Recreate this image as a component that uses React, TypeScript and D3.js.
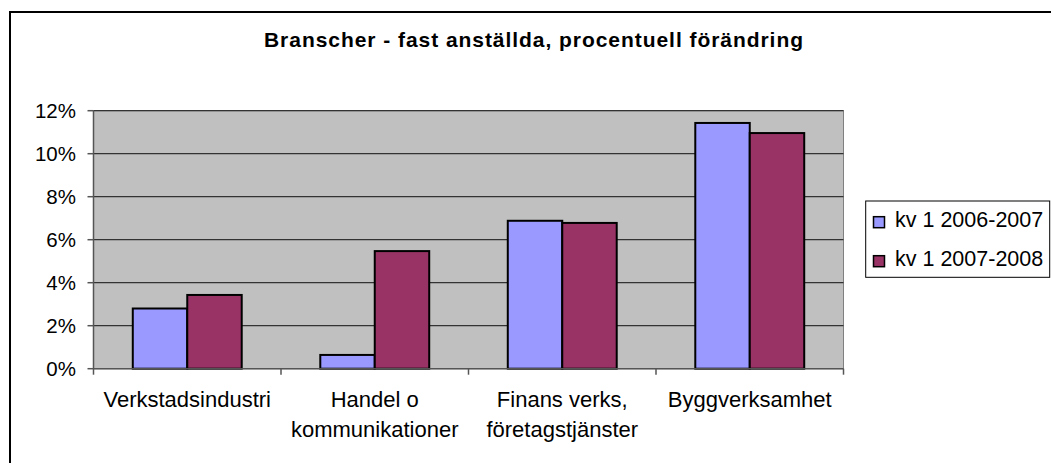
import React from 'react'
import * as d3 from 'd3'

const categories = ['Verkstadsindustri', 'Handel o\nkommunikationer', 'Finans verks,\nföretagstjänster', 'Byggverksamhet']
const seriesNames = ['kv 1 2006-2007', 'kv 1 2007-2008']
const values2006 = [0.028, 0.0064, 0.0688, 0.1143]
const values2007 = [0.0343, 0.0547, 0.0678, 0.1096]
const yTicks = [0, 0.02, 0.04, 0.06, 0.08, 0.1, 0.12]

const colors = ['#9999FF', '#993366']
const font = '"Liberation Sans", Arial, sans-serif'

const App = () => {
  const width = 1051
  const height = 463
  const plot = { left: 93.5, right: 843.5, top: 110.7, bottom: 368.7 }

  const series = [values2006, values2007]

  const x = d3.scaleBand()
    .domain(categories)
    .range([plot.left, plot.right])
    .paddingInner(0.419)
    .paddingOuter(0.2095)

  const xInner = d3.scaleBand()
    .domain(d3.range(series.length).map(String))
    .range([0, x.bandwidth()])

  const y = d3.scaleLinear()
    .domain([0, 0.12])
    .range([plot.bottom, plot.top])

  const fmt = d3.format('.0%')
  const step = x.step()

  return (
    <div style={{ position: 'fixed', left: 0, top: 0 }}>
      <svg width={width} height={height} style={{ display: 'block', background: '#fff' }}>
        {/* chart frame, runs past the picture edge */}
        <rect x={10} y={12} width={1100} height={500} fill="#fff" stroke="#000" strokeWidth={2} />

        <text x={264} y={46.7} textLength={539} lengthAdjust="spacing"
          fontFamily={font} fontWeight="bold" fontSize={21} fill="#000">
          Branscher - fast anställda, procentuell förändring
        </text>

        {/* plot area */}
        <rect x={plot.left} y={plot.top} width={plot.right - plot.left} height={plot.bottom - plot.top}
          fill="#C0C0C0" stroke="#808080" strokeWidth={1} />

        {yTicks.filter(t => t > 0).map(t => (
          <line key={t} x1={plot.left} x2={plot.right} y1={y(t)} y2={y(t)} stroke="#333" strokeWidth={1.2} />
        ))}

        {/* y axis */}
        <line x1={plot.left} x2={plot.left} y1={plot.top} y2={plot.bottom} stroke="#555" strokeWidth={1.5} />
        {yTicks.map(t => (
          <g key={t}>
            <line x1={plot.left - 6} x2={plot.left} y1={y(t)} y2={y(t)} stroke="#555" strokeWidth={1.5} />
            <text x={76} y={y(t) + 6.8} textAnchor="end" fontFamily={font} fontSize={20.5} fill="#000">
              {fmt(t)}
            </text>
          </g>
        ))}

        {/* bars */}
        {series.map((vals, s) => (
          <g key={s} fill={colors[s]} stroke="#000" strokeWidth={2}>
            {categories.map((c, i) => (
              <rect key={c}
                x={(x(c) ?? 0) + (xInner(String(s)) ?? 0)}
                y={y(vals[i])}
                width={xInner.bandwidth()}
                height={y(0) - y(vals[i])} />
            ))}
          </g>
        ))}

        {/* x axis */}
        <line x1={plot.left} x2={plot.right} y1={plot.bottom} y2={plot.bottom} stroke="#555" strokeWidth={1.5} />
        {d3.range(categories.length + 1).map(i => (
          <line key={i} x1={plot.left + i * step} x2={plot.left + i * step}
            y1={plot.bottom} y2={plot.bottom + 6} stroke="#555" strokeWidth={1.5} />
        ))}
        {categories.map(c => (
          <text key={c} textAnchor="middle" fontFamily={font} fontSize={22} fill="#000">
            {c.split('\n').map((line, k) => (
              <tspan key={k} x={(x(c) ?? 0) + x.bandwidth() / 2} y={406.7 + k * 30.3}>{line}</tspan>
            ))}
          </text>
        ))}

        {/* legend */}
        <rect x={865.7} y={201} width={184} height={76.3} fill="#fff" stroke="#000" strokeWidth={1} />
        {seriesNames.map((name, s) => (
          <g key={name}>
            <rect x={873.5} y={216.7 + s * 39} width={11} height={11} fill={colors[s]} stroke="#000" strokeWidth={1.5} />
            <text x={895} y={227 + s * 38.5} fontFamily={font} fontSize={21.5} fill="#000">{name}</text>
          </g>
        ))}
      </svg>
    </div>
  )
}

export default App
